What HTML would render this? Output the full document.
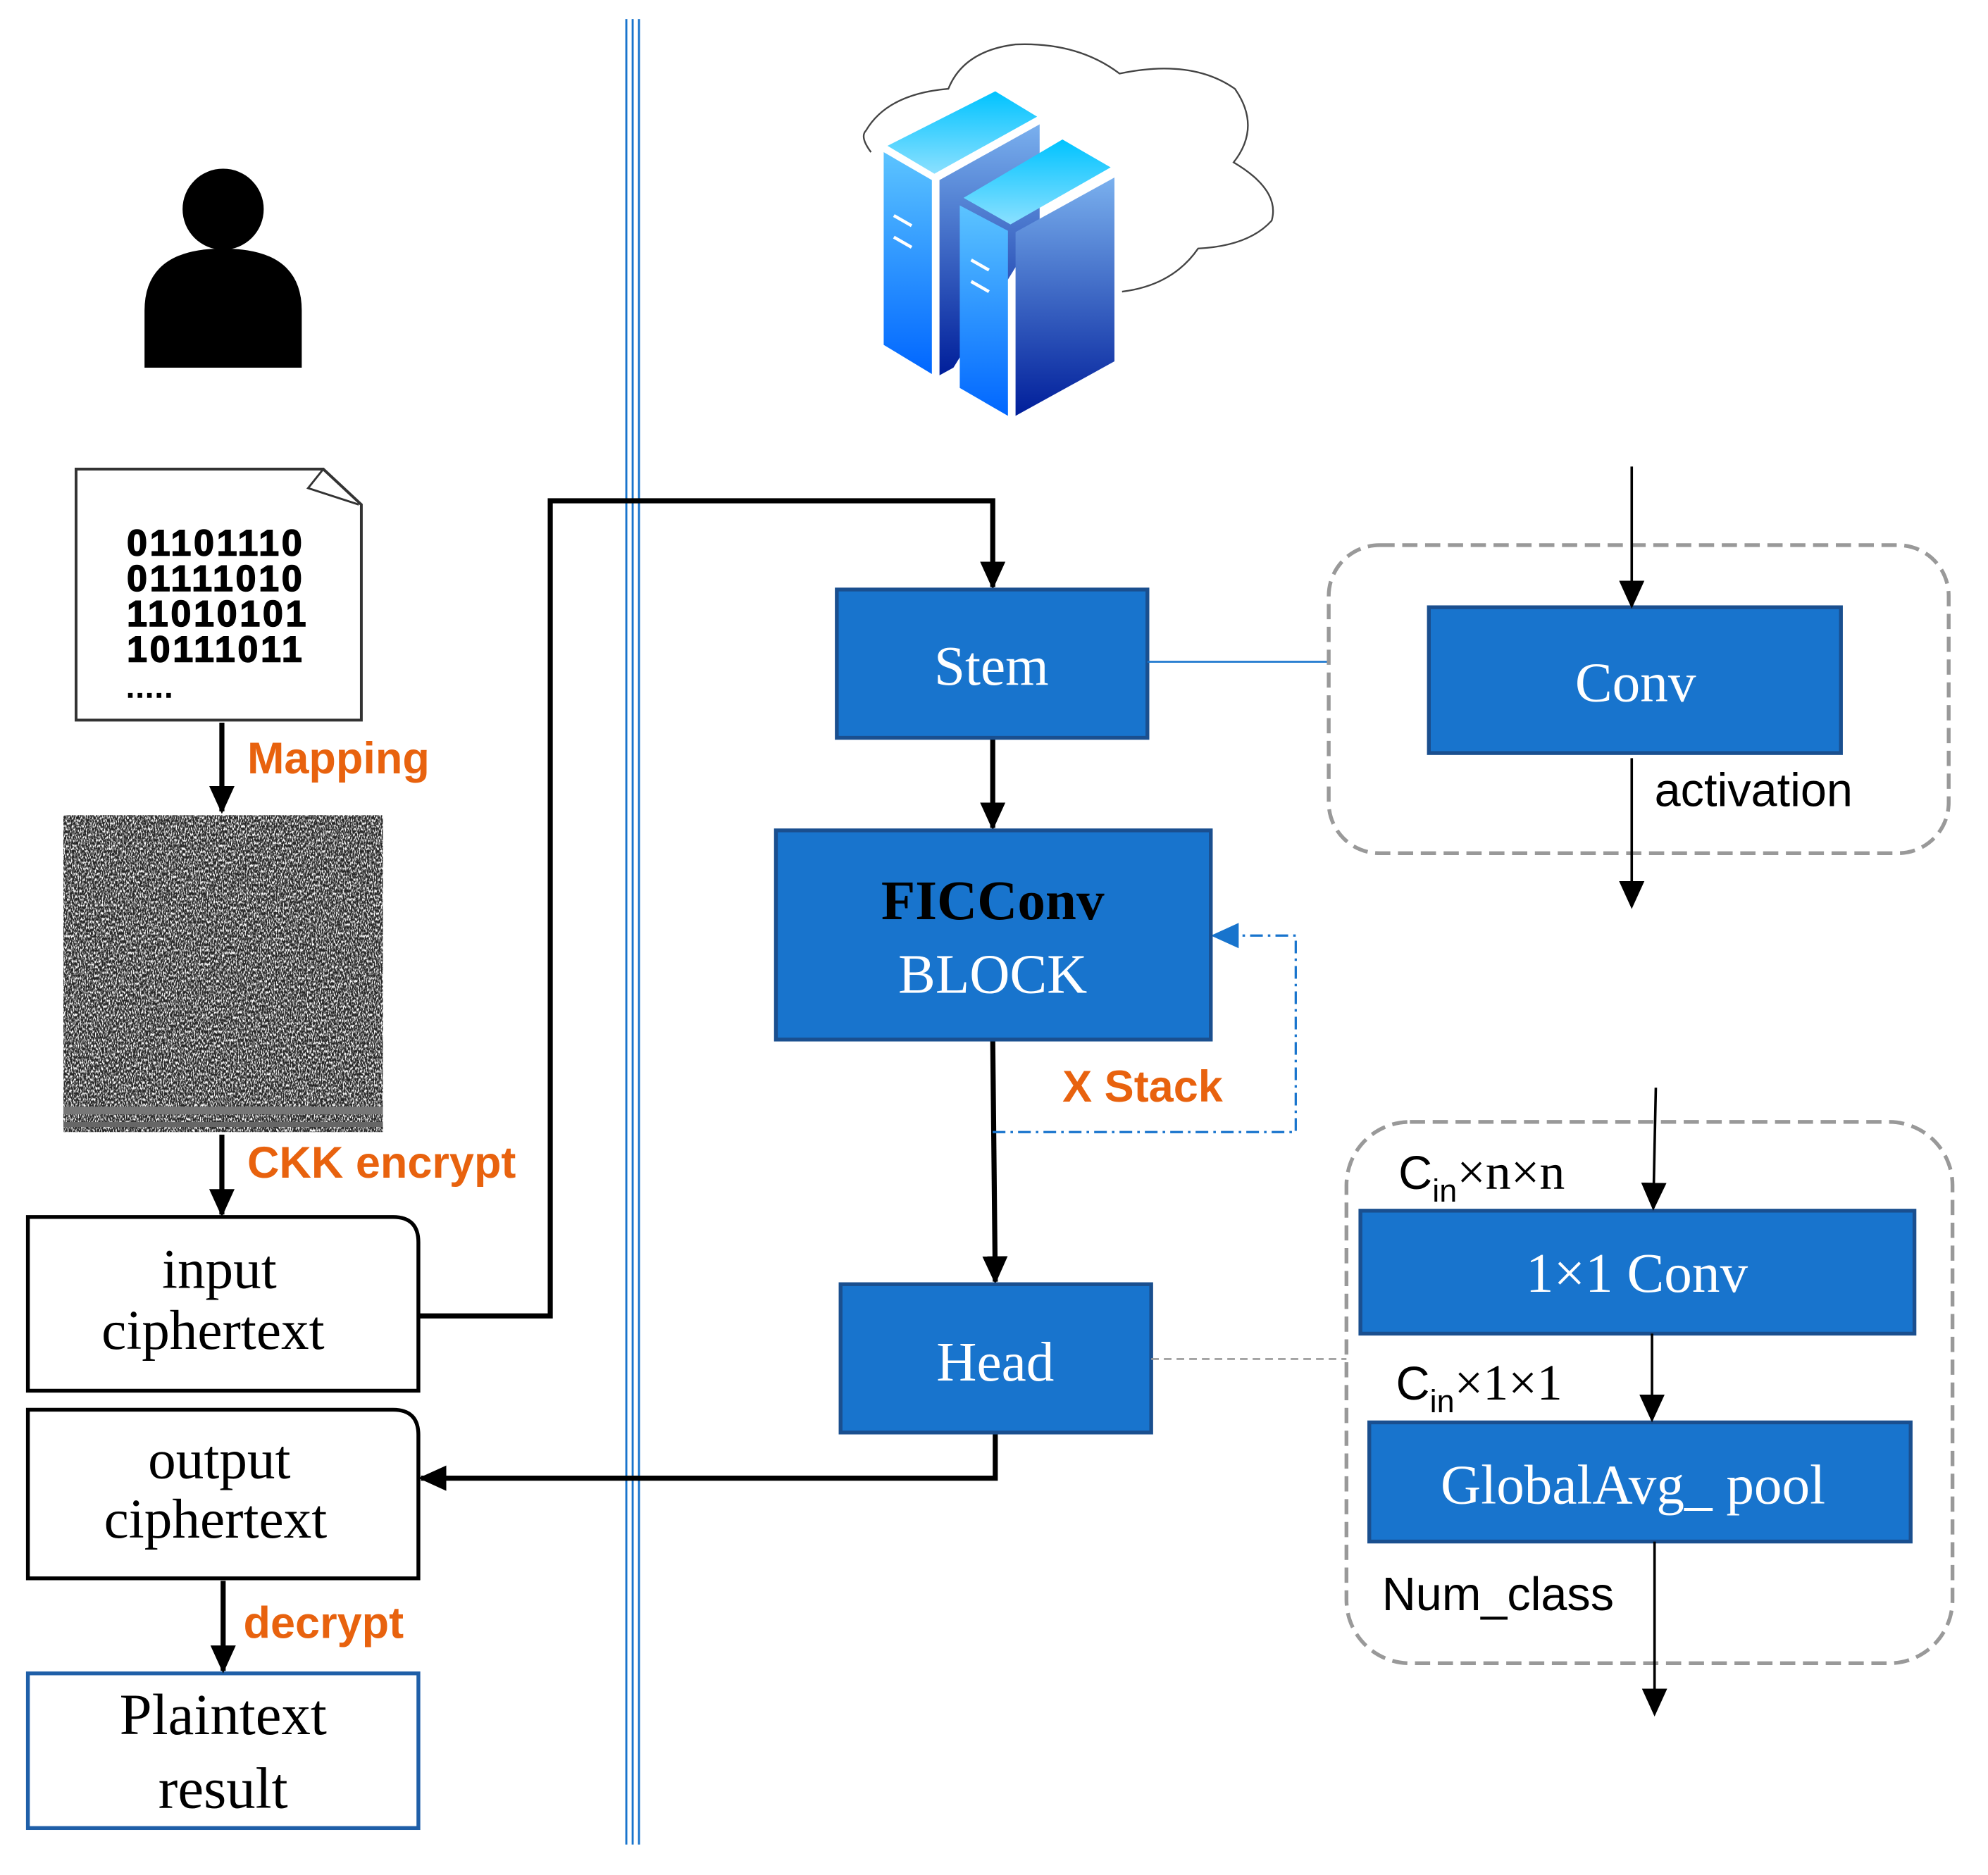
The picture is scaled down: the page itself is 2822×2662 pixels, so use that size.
<!DOCTYPE html>
<html><head><meta charset="utf-8"><style>html,body{margin:0;padding:0;background:#fff}svg{display:block}</style></head>
<body>
<svg width="2822" height="2662" viewBox="0 0 1568 1479" xmlns="http://www.w3.org/2000/svg">
<defs>
<marker id="ak" markerWidth="22" markerHeight="22" refX="20" refY="11" orient="auto" markerUnits="userSpaceOnUse"><path d="M0,1 L22,11 L0,21 z" fill="#000"/></marker>
<marker id="abl" markerWidth="22" markerHeight="22" refX="20" refY="11" orient="auto" markerUnits="userSpaceOnUse"><path d="M0,1 L22,11 L0,21 z" fill="#1874cd"/></marker>
<filter id="ng" x="0" y="0" width="1" height="1" filterUnits="objectBoundingBox"><feTurbulence type="fractalNoise" baseFrequency="1.1 0.45" numOctaves="2" seed="5"/><feColorMatrix type="matrix" values="0 0 0 0 1  0 0 0 0 1  0 0 0 0 1  4 0 0 0 -1.75"/></filter>
<linearGradient id="gf" x1="0" y1="0" x2="0" y2="1"><stop offset="0" stop-color="#5cc4ff"/><stop offset="1" stop-color="#0066ff"/></linearGradient>
<linearGradient id="gs" x1="0" y1="0" x2="0" y2="1"><stop offset="0" stop-color="#7ab0ee"/><stop offset="1" stop-color="#001e9a"/></linearGradient>
<linearGradient id="gt" x1="0" y1="0" x2="0" y2="1"><stop offset="0" stop-color="#00c3ff"/><stop offset="1" stop-color="#8be0ff"/></linearGradient>
</defs>
<rect width="1568" height="1479" fill="#fff"/>
<g stroke="#1874cd" stroke-width="1.6"><line x1="494" y1="15" x2="494" y2="1455"/><line x1="499" y1="15" x2="499" y2="1455"/><line x1="504" y1="15" x2="504" y2="1455"/></g>
<circle cx="176" cy="165" r="32" fill="#000"/>
<path d="M114,290 L114,245 Q114,196 176,196 Q238,196 238,245 L238,290 Z" fill="#000"/>
<path d="M687,120 Q678,108 683,103 Q700,74 748,70 Q760,40 801,35 Q850,33 883,58 Q940,46 974,70 Q995,100 973,128 Q1010,150 1003,174 Q985,194 945,196 Q925,225 885,230" fill="none" stroke="#444" stroke-width="1.3"/>
<polygon points="697,120 735,142 735,295 697,272" fill="url(#gf)"/>
<polygon points="700,115 785,72 818,92 737,137" fill="url(#gt)"/>
<polygon points="741,142 820,98 820,180 752,290 741,296" fill="url(#gs)"/>
<polygon points="757,162 795,182 795,328 757,306" fill="url(#gf)"/>
<polygon points="760,156 838,110 876,132 797,177" fill="url(#gt)"/>
<polygon points="801,183 879,140 879,285 801,328" fill="url(#gs)"/>
<g stroke="#fff" stroke-width="2.5"><line x1="705" y1="170" x2="719" y2="178"/><line x1="705" y1="187" x2="719" y2="195"/><line x1="766" y1="205" x2="780" y2="213"/><line x1="766" y1="222" x2="780" y2="230"/></g>
<path d="M60,370 L255,370 L285,398 L285,568 L60,568 Z" fill="#fff" stroke="#333" stroke-width="2.2"/>
<path d="M255,370 L243,385 L283,398" fill="none" stroke="#333" stroke-width="1.6"/>
<g font-family="Liberation Sans, sans-serif" font-weight="bold" font-size="29" fill="#000" stroke="#000" stroke-width="0.8" letter-spacing="2">
<text x="100" y="438">01101110</text><text x="100" y="466">01111010</text><text x="100" y="494">11010101</text><text x="100" y="522">10111011</text><text x="100" y="550" font-size="20">.....</text></g>
<line x1="175" y1="570" x2="175" y2="640" stroke="#000" stroke-width="4" marker-end="url(#ak)"/>
<text x="195" y="610" font-family="Liberation Sans, sans-serif" font-weight="bold" font-size="35" fill="#e8620e">Mapping</text>
<rect x="50" y="643" width="252" height="250" fill="#262626"/>
<rect x="50" y="643" width="252" height="250" filter="url(#ng)"/>
<rect x="50" y="873" width="252" height="6" fill="#777"/>
<rect x="50" y="885" width="252" height="4" fill="#666"/>
<line x1="175" y1="895" x2="175" y2="958" stroke="#000" stroke-width="4" marker-end="url(#ak)"/>
<text x="195" y="929" font-family="Liberation Sans, sans-serif" font-weight="bold" font-size="35" fill="#e8620e">CKK encrypt</text>
<path d="M22,960 L310,960 Q330,960 330,980 L330,1097 L22,1097 Z" fill="#fff" stroke="#000" stroke-width="3"/>
<g font-family="Liberation Serif, serif" font-size="44" fill="#000" text-anchor="middle">
<text x="173" y="1016">input</text><text x="168" y="1064">ciphertext</text>
<text x="173" y="1166">output</text><text x="170" y="1213">ciphertext</text>
<text x="176" y="1368" font-size="46">Plaintext</text><text x="176" y="1426" font-size="46">result</text></g>
<path d="M22,1112 L310,1112 Q330,1112 330,1132 L330,1245 L22,1245 Z" fill="none" stroke="#000" stroke-width="3"/>
<rect x="22" y="1320" width="308" height="122" fill="none" stroke="#1f5fa8" stroke-width="3"/>
<line x1="176" y1="1247" x2="176" y2="1318" stroke="#000" stroke-width="4" marker-end="url(#ak)"/>
<text x="192" y="1292" font-family="Liberation Sans, sans-serif" font-weight="bold" font-size="35" fill="#e8620e">decrypt</text>
<polyline points="330,1038 434,1038 434,395 783,395 783,463" fill="none" stroke="#000" stroke-width="4" marker-end="url(#ak)"/>
<polyline points="785,1130 785,1166 332,1166" fill="none" stroke="#000" stroke-width="4" marker-end="url(#ak)"/>
<line x1="783" y1="583" x2="783" y2="653" stroke="#000" stroke-width="4" marker-end="url(#ak)"/>
<line x1="783" y1="820" x2="785" y2="1011" stroke="#000" stroke-width="4" marker-end="url(#ak)"/>
<polyline points="783,893 1022,893 1022,738 957,738" fill="none" stroke="#1874cd" stroke-width="1.8" stroke-dasharray="10,4,2,4" marker-end="url(#abl)"/>
<text x="838" y="869" font-family="Liberation Sans, sans-serif" font-weight="bold" font-size="35" fill="#e8620e">X Stack</text>
<g fill="#1874cd" stroke="#1a4f8f" stroke-width="3">
<rect x="660" y="465" width="245" height="117"/>
<rect x="612" y="655" width="343" height="165"/>
<rect x="663" y="1013" width="245" height="117"/>
<rect x="1127" y="479" width="325" height="115"/>
<rect x="1073" y="955" width="437" height="97"/>
<rect x="1080" y="1122" width="427" height="94"/>
</g>
<g font-family="Liberation Serif, serif" font-size="44" fill="#fff" text-anchor="middle">
<text x="782" y="540">Stem</text>
<text x="783" y="725" font-weight="bold" fill="#000">FICConv</text>
<text x="783" y="783">BLOCK</text>
<text x="785" y="1089">Head</text>
<text x="1290" y="553">Conv</text>
<text x="1291" y="1019">1×1 Conv</text>
<text x="1288" y="1186">GlobalAvg_ pool</text>
</g>
<line x1="905" y1="522" x2="1048" y2="522" stroke="#1874cd" stroke-width="1.5"/>
<line x1="908" y1="1072" x2="1062" y2="1072" stroke="#999" stroke-width="1.5" stroke-dasharray="6,4"/>
<rect x="1048" y="430" width="489" height="243" rx="40" fill="none" stroke="#999" stroke-width="3" stroke-dasharray="12,6"/>
<rect x="1062" y="885" width="478" height="427" rx="50" fill="none" stroke="#999" stroke-width="3" stroke-dasharray="12,6"/>
<line x1="1287" y1="368" x2="1287" y2="478" stroke="#000" stroke-width="2" marker-end="url(#ak)"/>
<line x1="1287" y1="598" x2="1287" y2="715" stroke="#000" stroke-width="2" marker-end="url(#ak)"/>
<line x1="1306" y1="858" x2="1304" y2="953" stroke="#000" stroke-width="2" marker-end="url(#ak)"/>
<line x1="1303" y1="1052" x2="1303" y2="1120" stroke="#000" stroke-width="2" marker-end="url(#ak)"/>
<line x1="1305" y1="1216" x2="1305" y2="1352" stroke="#000" stroke-width="2" marker-end="url(#ak)"/>
<g font-family="Liberation Sans, sans-serif" font-size="37" fill="#000">
<text x="1305" y="636">activation</text>
<text x="1090" y="1270">Num_class</text>
<text x="1103" y="938">C<tspan font-size="25" dy="10">in</tspan><tspan dy="-10" font-family="Liberation Serif, serif" font-size="40">×n×n</tspan></text>
<text x="1101" y="1104">C<tspan font-size="25" dy="10">in</tspan><tspan dy="-10" font-family="Liberation Serif, serif" font-size="40">×1×1</tspan></text>
</g>
</svg>
</body></html>
